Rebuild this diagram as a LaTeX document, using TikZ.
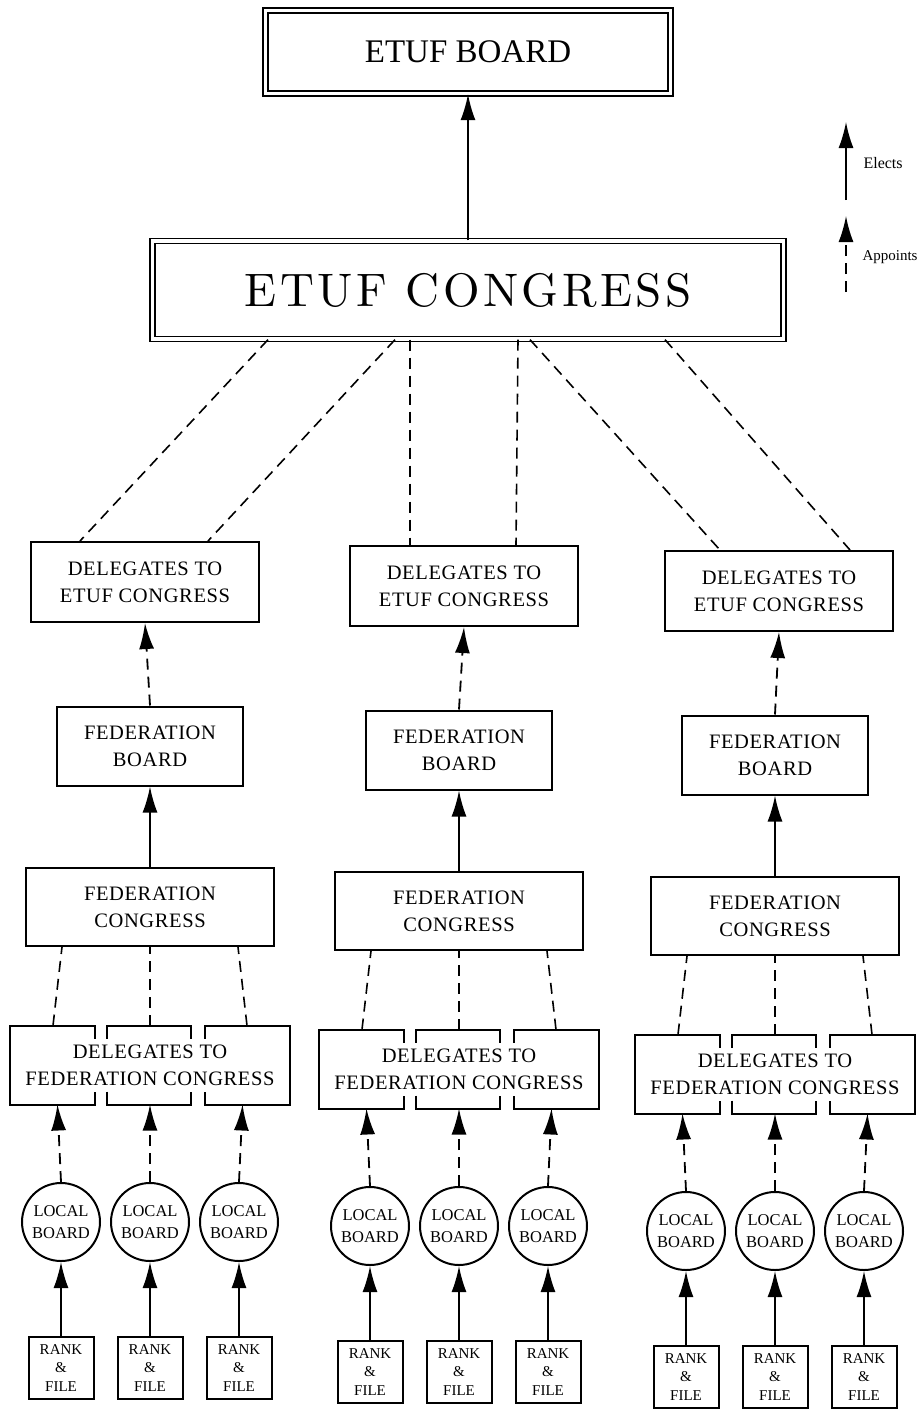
\documentclass[tikz,border=0pt]{standalone}
\usepackage{fontspec}
\newfontfamily\timesfont{Liberation Serif}
\newfontfamily\labfont[LetterSpace=3]{Liberation Serif}
\newfontfamily\congfont[LetterSpace=7.3]{lmroman10-regular.otf}
\usetikzlibrary{arrows.meta}

\tikzset{
  box/.style={draw, line width=2pt, inner sep=0pt, align=center,
    font=\labfont\fontsize{20.5}{27}\selectfont},
  dbox/.style={draw, double, double distance=3.5pt, line width=1.3pt, inner sep=0pt},
  localb/.style={circle, draw, line width=2pt, minimum size=78pt, inner sep=0pt,
    align=center, font=\timesfont\fontsize{16.5}{22}\selectfont},
  rankb/.style={draw, line width=2pt, minimum width=65pt, minimum height=62pt,
    inner sep=0pt, align=center, font=\timesfont\fontsize{15}{18.5}\selectfont},
  elect/.style={line width=1.8pt, -{Latex[length=26pt,width=15pt]}},
  appoint/.style={elect, dash pattern=on 11pt off 7pt},
  dline/.style={line width=1.6pt, dash pattern=on 11pt off 7pt},
  segline/.style={line width=2pt},
}

\begin{document}
\begin{tikzpicture}[x=1pt, y=-1pt]
\useasboundingbox (0,0) rectangle (919,1416);

\node[dbox, minimum width=405pt, minimum height=83pt,
  font=\timesfont\fontsize{33}{33}\selectfont] (board) at (468,52) {ETUF BOARD};
\node[dbox, minimum width=631pt, minimum height=98pt,
  font=\congfont\fontsize{47}{47}\selectfont] (cong) at (468,290) {ETUF CONGRESS};
\draw[elect] (cong.north) -- (board.south);

% legend
\coordinate (eb) at (846,200);
\coordinate (et) at (846,122);
\coordinate (apb) at (846,292);
\coordinate (apt) at (846,216);
\draw[elect] (eb) -- (et);
\draw[appoint] (apb) -- (apt);
\node[anchor=west, font=\timesfont\fontsize{16}{16}\selectfont] (elects) at (860,163) {Elects};
\node[anchor=west, font=\timesfont\fontsize{15}{15}\selectfont] (appoints) at (859,257) {Appoints};

\foreach \c/\cx/\ex/\dy/\la/\lb/\ta/\tb in {1/150/145/0/-200/-73/-65/63, 2/459/464/4/-58/50/-54/52, 3/775/779/9/62/197/-59/71} {
  \node[box, minimum width=228pt, minimum height=80pt] (de\c) at (\ex,582+\dy) {DELEGATES TO\\ETUF CONGRESS};
  \node[box, minimum width=186pt, minimum height=79pt] (fb\c) at (\cx,746+\dy) {FEDERATION\\BOARD};
  \node[box, minimum width=248pt, minimum height=78pt] (fc\c) at (\cx,907+\dy) {FEDERATION\\CONGRESS};
  \node[box, draw=none, minimum width=278pt, minimum height=77pt] (df\c) at (\cx,1065+\dy) {DELEGATES TO\\FEDERATION CONGRESS};

  % bracketed box
  \draw[segline] ([xshift=84.7pt,yshift=-13pt]df\c.north west) |- (df\c.north west) -- (df\c.south west) -| ([xshift=84.7pt,yshift=13pt]df\c.south west);
  \draw[segline] ([xshift=96.7pt,yshift=-13pt]df\c.north west) |- ([xshift=181.3pt]df\c.north west) -- ++(0,13);
  \draw[segline] ([xshift=96.7pt,yshift=13pt]df\c.south west) |- ([xshift=181.3pt]df\c.south west) -- ++(0,-13);
  \draw[segline] ([xshift=-84.7pt,yshift=-13pt]df\c.north east) |- (df\c.north east) -- (df\c.south east) -| ([xshift=-84.7pt,yshift=13pt]df\c.south east);

  \draw[dline] ([xshift=\la pt]cong.south) -- ([xshift=\ta pt]de\c.north);
  \draw[dline] ([xshift=\lb pt]cong.south) -- ([xshift=\tb pt]de\c.north);
  \draw[appoint] (fb\c.north) -- (de\c.south);
  \draw[elect] (fc\c.north) -- (fb\c.south);

  \foreach \i/\ox/\ux/\tx in {1/-89/-88/-97, 2/0/0/0, 3/89/88/97} {
    \node[localb] (lb\c\i) at (\cx+\ox,1222+\dy) {LOCAL\\BOARD};
    \node[rankb] (rf\c\i) at (\cx+\ox,1368+\dy) {RANK\\\&\\FILE};
    \draw[dline] ([xshift=\tx pt]df\c.north) -- ([xshift=\ux pt]fc\c.south);
    \draw[appoint] (lb\c\i.north) -- ([xshift=\ox pt*1.04]df\c.south);
    \draw[elect] (rf\c\i.north) -- (lb\c\i.south);
  }
}

\end{tikzpicture}
\end{document}
